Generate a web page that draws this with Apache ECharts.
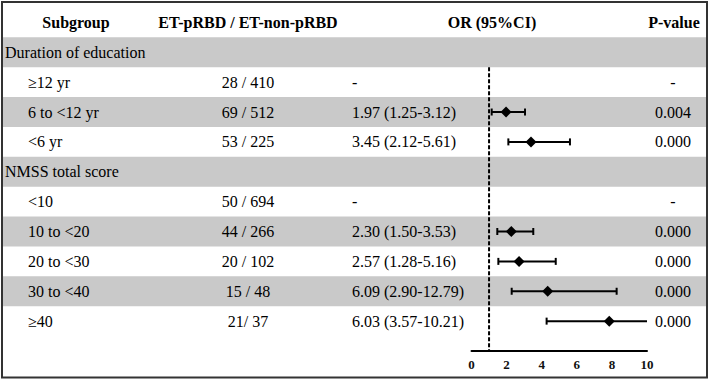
<!DOCTYPE html>
<html>
<head>
<meta charset="utf-8">
<script src="https://cdn.jsdelivr.net/npm/echarts@6/dist/echarts.min.js"></script>
<style>html,body{margin:0;padding:0;background:#fff}#c{width:709px;height:382px}</style>
</head>
<body>
<div id="c"></div>
<script>
// ---- data ----
const headers = ["Subgroup", "ET-pRBD / ET-non-pRBD", "OR (95%CI)", "P-value"];
const rowLabels = ["Duration of education", "≥12 yr", "6 to <12 yr", "<6 yr", "NMSS total score", "<10", "10 to <20", "20 to <30", "30 to <40", "≥40"];
const rowIsGroup = [true, false, false, false, true, false, false, false, false, false];
const counts = ["", "28 / 410", "69 / 512", "53 / 225", "", "50 / 694", "44 / 266", "20 / 102", "15 / 48", "21/ 37"];
const orTexts = ["", "-", "1.97 (1.25-3.12)", "3.45 (2.12-5.61)", "", "-", "2.30 (1.50-3.53)", "2.57 (1.28-5.16)", "6.09 (2.90-12.79)", "6.03 (3.57-10.21)"];
const pTexts = ["", "-", "0.004", "0.000", "", "-", "0.000", "0.000", "0.000", "0.000"];
// plotted positions (lower, estimate, upper)
const ciLow = [null, null, 1.15, 2.10, null, null, 1.47, 1.53, 2.29, 4.28];
const ciEst = [null, null, 1.97, 3.39, null, null, 2.27, 2.71, 4.34, 7.85];
const ciHigh = [null, null, 3.05, 5.61, null, null, 3.52, 4.80, 8.27, 10.21];
const xTicks = [0, 2, 4, 6, 8, 10];
const refLine = 1;

// ---- chart ----
const FONT = "'Liberation Serif', 'Times New Roman', serif";
const chart = echarts.init(document.getElementById('c'), null, {renderer: 'svg'});
const Y_MIN = -1.25, Y_MAX = 10.5;
const bandRows = rowLabels.map((_, i) => i).filter(i => i % 2 === 0);
const ciData = rowLabels.map((_, i) => [i, ciLow[i], ciEst[i], ciHigh[i]]).filter(d => d[1] != null);

const option = {
  animation: false,
  backgroundColor: '#fff',
  grid: [
    {left: 0, right: 0, top: 0, bottom: 31},
    {left: 471.5, right: 62, top: 0, bottom: 31}
  ],
  xAxis: [
    {gridIndex: 0, type: 'value', min: 0, max: 709, show: false},
    {gridIndex: 1, type: 'value', min: 0, max: 10, interval: 2,
      axisLine: {show: true, onZero: false, lineStyle: {color: '#000', width: 2}},
      axisTick: {show: false}, splitLine: {show: false},
      axisLabel: {color: '#111', fontFamily: FONT, fontWeight: 'bold', fontSize: 13, margin: 7,
        formatter: v => xTicks.includes(v) ? String(v) : ''}}
  ],
  yAxis: [
    {gridIndex: 0, type: 'value', min: Y_MIN, max: Y_MAX, inverse: true, show: false},
    {gridIndex: 1, type: 'value', min: Y_MIN, max: Y_MAX, inverse: true, show: false}
  ],
  series: [
    { // gray bands
      type: 'custom', xAxisIndex: 0, yAxisIndex: 0, z: 1, silent: true,
      data: bandRows.map(i => [i]),
      renderItem: (params, api) => {
        const r = api.value(0);
        const p0 = api.coord([2, r]), p1 = api.coord([707, r + 1]);
        return {type: 'rect', shape: {x: p0[0], y: p0[1], width: p1[0] - p0[0], height: p1[1] - p0[1]},
          style: {fill: '#c9c9c9'}};
      }
    },
    { // header
      type: 'custom', xAxisIndex: 0, yAxisIndex: 0, z: 5, silent: true,
      data: headers.map((h, i) => [i]),
      renderItem: (params, api) => {
        const i = api.value(0);
        const xs = [76, 248, 492, 674];
        const p = api.coord([xs[i], -0.5]);
        return {type: 'text', x: p[0], y: p[1],
          style: {text: headers[i], fill: '#000', font: 'bold 16px ' + FONT, align: 'center', verticalAlign: 'middle'}};
      }
    },
    { // table rows
      type: 'custom', xAxisIndex: 0, yAxisIndex: 0, z: 5, silent: true,
      data: rowLabels.map((_, i) => [i]),
      renderItem: (params, api) => {
        const i = api.value(0);
        const yc = i + 0.5;
        const st = (t, align) => ({text: t, fill: '#000', font: '16px ' + FONT, align: align, verticalAlign: 'middle'});
        const kids = [];
        const pl = api.coord([rowIsGroup[i] ? 5 : 28, yc]);
        kids.push({type: 'text', x: pl[0], y: pl[1], style: st(rowLabels[i], 'left')});
        if (counts[i]) { const p = api.coord([248, yc]); kids.push({type: 'text', x: p[0], y: p[1], style: st(counts[i], 'center')}); }
        if (orTexts[i]) { const p = api.coord([352, yc]); kids.push({type: 'text', x: p[0], y: p[1], style: st(orTexts[i], 'left')}); }
        if (pTexts[i]) { const p = api.coord([673, yc]); kids.push({type: 'text', x: p[0], y: p[1], style: st(pTexts[i], 'center')}); }
        return {type: 'group', children: kids};
      }
    },
    { // reference dashed line
      type: 'line', xAxisIndex: 1, yAxisIndex: 1, z: 6, symbol: 'none', silent: true,
      data: [[refLine, 1], [refLine, Y_MAX]],
      lineStyle: {color: '#000', width: 2, type: [4, 2]}
    },
    { // CI + diamond
      type: 'custom', xAxisIndex: 1, yAxisIndex: 1, z: 7, silent: true, clip: false,
      data: ciData,
      renderItem: (params, api) => {
        const r = api.value(0) + 0.5;
        const lo = api.value(1), est = api.value(2), hiRaw = api.value(3);
        const hi = Math.min(hiRaw, 10);
        const a = api.coord([lo, r]), b = api.coord([hi, r]), m = api.coord([est, r]);
        const ls = {stroke: '#000', lineWidth: 2};
        const kids = [
          {type: 'line', shape: {x1: a[0], y1: a[1], x2: b[0], y2: b[1]}, style: ls},
          {type: 'line', shape: {x1: a[0], y1: a[1] - 3.5, x2: a[0], y2: a[1] + 3.5}, style: ls}
        ];
        if (hiRaw <= 10) kids.push({type: 'line', shape: {x1: b[0], y1: b[1] - 3.5, x2: b[0], y2: b[1] + 3.5}, style: ls});
        kids.push({type: 'polygon', shape: {points: [[m[0] - 5.5, m[1]], [m[0], m[1] - 5.5], [m[0] + 5.5, m[1]], [m[0], m[1] + 5.5]]},
          style: {fill: '#000'}});
        return {type: 'group', children: kids};
      }
    }
  ],
  graphic: [
    {type: 'rect', z: 100, silent: true, shape: {x: 2, y: 2, width: 705, height: 375.5},
      style: {fill: 'none', stroke: '#333', lineWidth: 2}}
  ]
};
chart.setOption(option);
</script>
</body>
</html>
